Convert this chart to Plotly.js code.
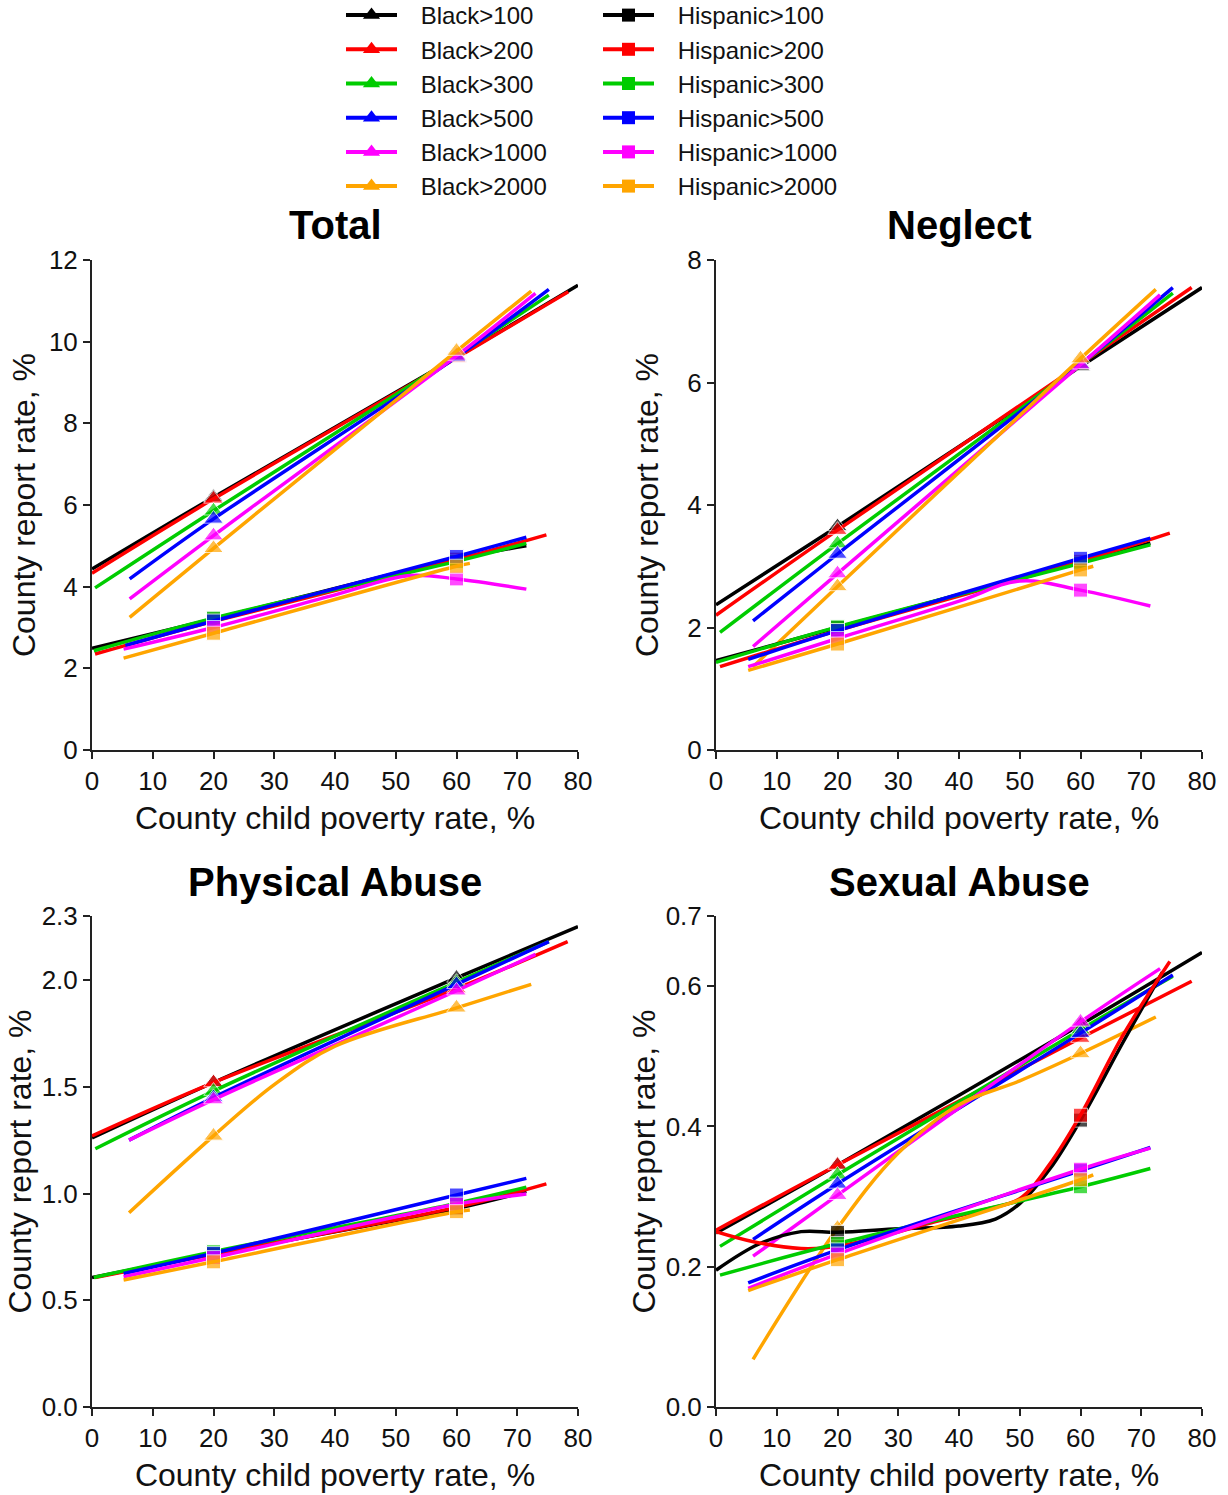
<!DOCTYPE html>
<html>
<head>
<meta charset="utf-8">
<script src="https://cdn.plot.ly/plotly-3.0.1.min.js"></script>
<style>html,body{margin:0;padding:0;background:#fff}#chart{width:1228px;height:1495px}</style>
</head>
<body>
<div id="chart"></div>
<script>
// ---------- DATA ----------
const thresholds = ['100', '200', '300', '500', '1000', '2000'];
const seriesColors = ['#000000', '#ff0000', '#00cc00', '#0000ff', '#ff00ff', '#ffa500'];
const markerX = [20, 60];
const panelTitles = ['Total', 'Neglect', 'Physical Abuse', 'Sexual Abuse'];
const xTitle = 'County child poverty rate, %';
const yTitle = 'County report rate, %';
const xTickVals = [0, 10, 20, 30, 40, 50, 60, 70, 80];
const totalTicks = [0, 2, 4, 6, 8, 10, 12];
const neglectTicks = [0, 2, 4, 6, 8];
const physicalTicks = [0, 0.5, 1.0, 1.5, 2.0, 2.3];
const sexualTicks = [0, 0.2, 0.4, 0.6, 0.7];

// Total
const totalBlackX = [[0,20,60,80],[0,20,60,78.4],[0.5,20,60,75.2],[6.2,20,60,75.2],[6.2,20,60,73],[6.2,20,60,72.3]];
const totalBlackY = [[4.43,6.19,9.62,11.38],[4.33,6.15,9.60,11.22],[3.97,5.86,9.65,11.14],[4.19,5.66,9.62,11.28],[3.70,5.25,9.65,11.18],[3.25,4.94,9.77,11.24]];
const totalHispX = [[0,20,60,71.5],[0.5,20,60,74.8],[0.3,20,60,71.5],[5.5,20,60,71.5],[5.2,20,40,52,60,71.5],[5.2,20,60,62.2]];
const totalHispY = [[2.49,3.21,4.68,5.00],[2.35,3.15,4.66,5.27],[2.43,3.23,4.62,5.06],[2.56,3.16,4.74,5.21],[2.47,3.00,3.80,4.27,4.19,3.94],[2.25,2.86,4.50,4.57]];

// Neglect
const neglectBlackX = [[0,20,60,80],[0,20,60,78.3],[0.66,20,60,75.2],[6.1,20,60,75.2],[6.1,20,60,73.1],[6.1,20,60,72.4]];
const neglectBlackY = [[2.37,3.65,6.26,7.55],[2.20,3.59,6.30,7.55],[1.92,3.37,6.30,7.46],[2.11,3.20,6.30,7.55],[1.69,2.88,6.29,7.43],[1.36,2.67,6.39,7.52]];
const neglectHispX = [[0,20,60,71.5],[0.66,20,60,74.7],[0,20,60,71.5],[5.3,20,60,71.5],[5.3,20,40,50,60,71.5],[5.3,20,60,62.1]];
const neglectHispY = [[1.46,2.00,3.07,3.38],[1.36,1.95,3.08,3.54],[1.43,2.01,3.05,3.35],[1.48,1.95,3.13,3.46],[1.36,1.82,2.43,2.76,2.61,2.35],[1.30,1.73,2.94,3.00]];

// Physical Abuse
const physicalBlackX = [[0,20,60,80],[0,20,60,78.3],[0.55,20,60,75.2],[6.1,20,60,75.2],[6.1,20,60,73],[6.1,20,30,40,60,72.3]];
const physicalBlackY = [[1.26,1.52,2.01,2.25],[1.27,1.52,1.96,2.18],[1.21,1.48,1.99,2.18],[1.25,1.45,1.98,2.18],[1.25,1.44,1.95,2.12],[0.91,1.27,1.51,1.69,1.87,1.98]];
const physicalHispX = [[0,20,60,71.5],[0.5,20,60,74.8],[0.3,20,60,71.5],[5.2,20,60,71.5],[5.2,20,60,71.5],[5.2,20,60,62.2]];
const physicalHispY = [[0.607,0.717,0.93,1.01],[0.607,0.715,0.935,1.045],[0.607,0.728,0.954,1.03],[0.625,0.72,0.993,1.071],[0.61,0.70,0.95,0.998],[0.595,0.68,0.915,0.923]];

// Sexual Abuse
const sexualBlackX = [[0,20,60,80],[0,20,60,78.3],[0.66,20,60,75.2],[6.1,20,60,75.2],[6.1,20,60,73.1],[6.1,20,30,40,50,60,72.4]];
const sexualBlackY = [[0.248,0.345,0.545,0.648],[0.252,0.345,0.526,0.607],[0.229,0.331,0.538,0.614],[0.239,0.318,0.533,0.616],[0.215,0.302,0.549,0.625],[0.068,0.255,0.362,0.431,0.465,0.504,0.556]];
const sexualHispX = [[0,7,14,20,30,40,46,50,55,60,67,73.5],[0,6,14,20,28,36,44,50,55,60,67,74.7],[0.66,20,60,71.5],[5.3,20,60,71.5],[5.3,20,60,71.5],[5.3,20,60,62.1]];
const sexualHispY = [[0.195,0.232,0.250,0.249,0.254,0.258,0.268,0.29,0.34,0.409,0.52,0.62],[0.25,0.236,0.226,0.229,0.245,0.264,0.281,0.297,0.347,0.416,0.53,0.635],[0.188,0.233,0.314,0.340],[0.177,0.224,0.337,0.370],[0.169,0.218,0.339,0.369],[0.166,0.21,0.324,0.331]];

// ---------- BUILD ----------
const FONT = 'Liberation Sans, Arial, sans-serif';
const TRI = 17, SQ = 14, LW = 3.5;
const panels = [
  {bx: totalBlackX, by: totalBlackY, hx: totalHispX, hy: totalHispY},
  {bx: neglectBlackX, by: neglectBlackY, hx: neglectHispX, hy: neglectHispY},
  {bx: physicalBlackX, by: physicalBlackY, hx: physicalHispX, hy: physicalHispY},
  {bx: sexualBlackX, by: sexualBlackY, hx: sexualHispX, hy: sexualHispY}
];
const groups = [
  {name: 'Black', sym: 'triangle-up', size: TRI, lsize: 15, legend: 'legend', xs: 'bx', ys: 'by'},
  {name: 'Hispanic', sym: 'square', size: SQ, lsize: 13, legend: 'legend2', xs: 'hx', ys: 'hy'}
];
const PAD = '\u2002\u00A0';

const traces = [];
panels.forEach((p, pi) => {
  const ax = pi === 0 ? '' : String(pi + 1);
  groups.forEach(g => {
    const xs = p[g.xs], ys = p[g.ys];
    thresholds.forEach((t, i) => {
      traces.push({
        type: 'scatter', mode: 'lines+markers',
        x: xs[i], y: ys[i],
        xaxis: 'x' + ax, yaxis: 'y' + ax,
        name: g.name + '>' + t,
        legendgroup: g.name + t,
        showlegend: false,
        line: {color: seriesColors[i], width: LW, shape: 'spline', smoothing: 1},
        marker: {symbol: g.sym, color: seriesColors[i], size: xs[i].map(v => markerX.includes(v) ? g.size : 0)},
        hoverinfo: 'x+y+name'
      });
    });
  });
});
// legend entries (no data points)
groups.forEach(g => {
  thresholds.forEach((t, i) => {
    traces.push({
      type: 'scatter', mode: 'lines+markers', x: [null], y: [null],
      name: PAD + g.name + '>' + t, legend: g.legend, legendgroup: g.name + t, showlegend: true,
      line: {color: seriesColors[i], width: 4},
      marker: {symbol: g.sym, color: seriesColors[i], size: g.lsize}
    });
  });
});

const W = 1228, H = 1495;
const xL = [92 / W, 578 / W], xR = [716 / W, 1202 / W];
const yT = [1 - 750 / H, 1 - 260 / H], yB = [1 - 1407 / H, 1 - 916 / H];

const axisCommon = {
  showgrid: false, zeroline: false, showline: true, linecolor: '#222', linewidth: 2,
  ticks: 'outside', ticklen: 7, tickwidth: 2, tickcolor: '#222',
  tickfont: {family: FONT, size: 26, color: '#111'}, fixedrange: true
};
function xaxisDef(dom, anchor) {
  return Object.assign({}, axisCommon, {
    domain: dom, anchor: anchor, range: [0, 80], tickvals: xTickVals,
    title: {text: xTitle, font: {family: FONT, size: 32, color: '#111'}, standoff: 11}
  });
}
function yaxisDef(dom, anchor, rng, ticks, fmt, so) {
  return Object.assign({}, axisCommon, {
    domain: dom, anchor: anchor, range: rng, tickvals: ticks, tickformat: fmt,
    title: {text: yTitle, font: {family: FONT, size: 32, color: '#111'}, standoff: so}
  });
}

const titleAnn = (txt, xc, yc) => ({
  text: '<b>' + txt + '</b>', x: xc / W, y: 1 - yc / H, xref: 'paper', yref: 'paper',
  xanchor: 'center', yanchor: 'middle', showarrow: false, font: {family: FONT, size: 40, color: '#000'}
});

const legendCommon = {
  xanchor: 'left', yanchor: 'top', bgcolor: 'rgba(0,0,0,0)', borderwidth: 0,
  font: {family: FONT, size: 24, color: '#111'}, itemwidth: 51, traceorder: 'normal', y: 1 + 7 / H
};

const layout = {
  width: W, height: H,
  margin: {l: 0, r: 0, t: 0, b: 0, autoexpand: false},
  paper_bgcolor: '#fff', plot_bgcolor: '#fff',
  font: {family: FONT, color: '#111'},
  xaxis: xaxisDef(xL, 'y'), yaxis: yaxisDef(yT, 'x', [0, 12], totalTicks, 'd', 4),
  xaxis2: xaxisDef(xR, 'y2'), yaxis2: yaxisDef(yT, 'x2', [0, 8], neglectTicks, 'd', 19),
  xaxis3: xaxisDef(xL, 'y3'), yaxis3: yaxisDef(yB, 'x3', [0, 2.3], physicalTicks, '.1f', 0),
  xaxis4: xaxisDef(xR, 'y4'), yaxis4: yaxisDef(yB, 'x4', [0, 0.7], sexualTicks, '.1f', 0),
  annotations: [
    titleAnn(panelTitles[0], 335, 225), titleAnn(panelTitles[1], 959, 225),
    titleAnn(panelTitles[2], 335, 882), titleAnn(panelTitles[3], 959, 882)
  ],
  legend: Object.assign({x: 341 / W}, legendCommon),
  legend2: Object.assign({x: 598 / W}, legendCommon),
  showlegend: true
};

Plotly.newPlot('chart', traces, layout, {displayModeBar: false, staticPlot: true});
</script>
</body>
</html>
